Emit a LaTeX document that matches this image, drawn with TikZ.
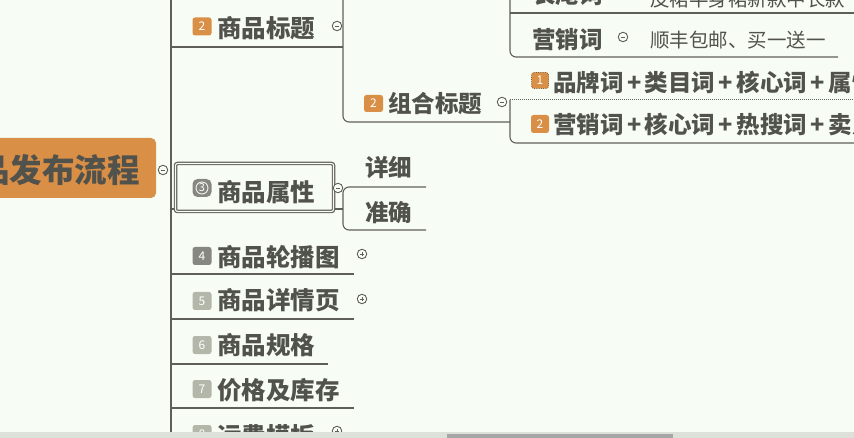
\documentclass[tikz,border=0pt]{standalone}
\usepackage{fontspec}
\newfontfamily\cjk{Noto Sans CJK SC}
\definecolor{bg}{RGB}{247,253,244}
\definecolor{txt}{RGB}{82,82,77}
\definecolor{ln}{RGB}{95,95,90}
\definecolor{org}{RGB}{217,143,70}
\definecolor{gbadge}{RGB}{178,183,170}
\definecolor{dbadge}{RGB}{135,135,130}
\definecolor{strip}{RGB}{222,225,218}
\newcommand{\pl}{\kern3.5pt+\kern3.5pt}
\tikzset{
  lbl/.style={font=\cjk\bfseries\fontsize{24.5pt}{26pt}\selectfont, text=txt, inner sep=0pt, anchor=west},
  sublbl/.style={font=\cjk\bfseries\fontsize{23.5pt}{25pt}\selectfont, text=txt, inner sep=0pt, anchor=west},
  smalllbl/.style={font=\cjk\fontsize{19.5pt}{21pt}\selectfont, text=txt, inner sep=0pt, anchor=west},
  badge/.style={rounded corners=2.5pt, minimum width=19pt, minimum height=18pt, inner sep=0pt, text=white, font=\cjk\fontsize{12pt}{12pt}\selectfont},
  obadge/.style={badge, fill=org},
  gb/.style={badge, fill=gbadge},
  db/.style={badge, fill=dbadge},
  conn/.style={draw=ln, line width=1.1pt},
  minus/.style={circle, draw=ln, fill=bg, line width=0.9pt, minimum size=9.5pt, inner sep=0pt,
    path picture={\draw[ln, line width=0.8pt] ([xshift=-2.4pt]path picture bounding box.center) -- ([xshift=2.4pt]path picture bounding box.center);}},
  plus/.style={minus,
    path picture={\draw[ln, line width=0.8pt] ([xshift=-2.4pt]path picture bounding box.center) -- ([xshift=2.4pt]path picture bounding box.center)
      ([yshift=-2.4pt]path picture bounding box.center) -- ([yshift=2.4pt]path picture bounding box.center);}},
}
\begin{document}
\begin{tikzpicture}[x=1pt, y=-1pt]
\useasboundingbox (0,0) rectangle (854,438);
\fill[bg] (0,0) rectangle (854,438);
\clip (0,0) rectangle (854,438);

% ---------- root ----------
\node[fill=org, rounded corners=5pt, minimum width=170pt, minimum height=60pt, inner sep=0pt] (root) at (71,168) {};
\node[font=\cjk\bfseries\fontsize{32.5pt}{34pt}\selectfont, text=txt, inner sep=0pt, anchor=east] (roottxt) at (140,170) {商品发布流程};
\node[minus] (rc) at (163,170) {};

% trunk
\coordinate (tkT) at (171,-10);
\coordinate (tkB) at (171,440);
\draw[conn] (tkT) -- (tkB);

% ---------- 2 商品标题 ----------
\node[obadge] (b2) at (202,26.5) {2};
\node[lbl] (t2) at (217,28) {商品标题};
\node[minus] (c2) at (337,26) {};
\coordinate (u2a) at (171,47);
\coordinate (u2b) at (343,47);
\draw[conn] (u2a) -- (u2b);
% spine of 商品标题
\coordinate (s2T) at (343,-10);
\coordinate (s2B) at (343,122);
\coordinate (u21b) at (510,122);
\draw[conn, rounded corners=6pt] (s2T) -- (s2B) -- (u21b);

% first (off-screen) child's children: 长尾词, 营销词
\coordinate (s1T) at (510,-10);
\coordinate (s1B) at (510,57);
\coordinate (u12b) at (838,57);
\draw[conn, rounded corners=6pt] (s1T) -- (s1B) -- (u12b);
\coordinate (u11a) at (510,13);
\coordinate (u11b) at (860,13);
\draw[conn] (u11a) -- (u11b);

\node[sublbl] (t11) at (532,-5) {长尾词};
\node[smalllbl] (t11c) at (650,-1) {皮裙半身裙新款中长款};
\node[sublbl] (t12) at (532,40) {营销词};
\node[minus] (c12) at (623,37) {};
\node[smalllbl] (t12c) at (650,40) {顺丰包邮、买一送一};

% ---------- 2 组合标题 ----------
\node[obadge, minimum width=19pt, minimum height=17pt] (b21) at (373.5,103.5) {2};
\node[sublbl] (t21) at (388,104) {组合标题};
\node[minus] (c21) at (502,102) {};
\coordinate (s21T) at (860,100);
\coordinate (s21a) at (510,100);
\coordinate (s21b) at (510,143);
\coordinate (s21E) at (860,143);
\draw[conn, rounded corners=6pt] (s21a) -- (s21b) -- (s21E);
\draw[ln, line width=1pt, densely dotted] (s21a) -- (s21T);

\node[obadge, draw=brown!70!black, densely dotted, line width=0.8pt, minimum width=17pt, minimum height=16pt] (b211) at (540,80.5) {1};
\node[sublbl] (t211) at (553,82) {品牌词\pl 类目词\pl 核心词\pl 属性词};
\node[obadge, minimum width=18pt, minimum height=18pt] (b212) at (540,124) {2};
\node[sublbl] (t212) at (553,125) {营销词\pl 核心词\pl 热搜词\pl 卖点词};

% ---------- 3 商品属性 ----------
\coordinate (u3a) at (171,209);
\coordinate (u3b) at (343,209);
\draw[conn] (u3a) -- (u3b);
\node[draw=ln, double=bg, double distance=1.1pt, line width=1.2pt, fill=bg, rounded corners=2pt, minimum width=158pt, minimum height=48pt, inner sep=0pt] (box3) at (254.5,187.5) {};
\node[db, rounded corners=5pt] (b3) at (202,188) {};
\node[circle, draw=white, line width=0.8pt, minimum size=12pt, inner sep=0pt, text=white, font=\cjk\fontsize{11pt}{11pt}\selectfont] (b3n) at (b3.center) {3};
\node[lbl] (t3) at (217,192) {商品属性};
\node[minus] (c3) at (338,188) {};
\coordinate (s3a) at (426,187);
\coordinate (s3b) at (343,187);
\coordinate (s3c) at (343,230);
\coordinate (s3d) at (426,230);
\draw[conn, rounded corners=6pt] (s3a) -- (s3b) -- (s3c) -- (s3d);
\node[sublbl] (t31) at (365,168) {详细};
\node[sublbl] (t32) at (365,213) {准确};

% ---------- 4 商品轮播图 ----------
\node[db] (b4) at (202,256) {4};
\node[lbl] (t4) at (217,257) {商品轮播图};
\node[plus] (c4) at (362,254) {};
\coordinate (u4a) at (171,274);
\coordinate (u4b) at (354,274);
\draw[conn] (u4a) -- (u4b);

% ---------- 5 商品详情页 ----------
\node[gb] (b5) at (202,301) {5};
\node[lbl] (t5) at (217,300) {商品详情页};
\node[plus] (c5) at (362,299) {};
\coordinate (u5a) at (171,319);
\coordinate (u5b) at (354,319);
\draw[conn] (u5a) -- (u5b);

% ---------- 6 商品规格 ----------
\node[gb] (b6) at (202,345) {6};
\node[lbl] (t6) at (217,345) {商品规格};
\coordinate (u6a) at (171,364);
\coordinate (u6b) at (328,364);
\draw[conn] (u6a) -- (u6b);

% ---------- 7 价格及库存 ----------
\node[gb] (b7) at (202,389) {7};
\node[lbl] (t7) at (217,390) {价格及库存};
\coordinate (u7a) at (171,408);
\coordinate (u7b) at (354,408);
\draw[conn] (u7a) -- (u7b);

% ---------- 8 运费模板 ----------
\node[gb] (b8) at (202,434) {8};
\node[lbl] (t8) at (217,436) {运费模板};
\node[plus] (c8) at (337,431) {};

% bottom strip and scrollbar
\fill[strip] (0,432) rectangle (854,438);
\fill[gray!70] (447,434) rectangle (673,438);
\end{tikzpicture}
\end{document}
